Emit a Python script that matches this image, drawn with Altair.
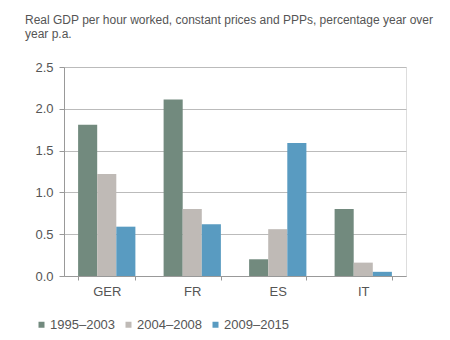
import altair as alt
import pandas as pd

countries = ["GER", "FR", "ES", "IT"]
periods = ["1995–2003", "2004–2008", "2009–2015"]
v_1995_2003 = [1.81, 2.11, 0.20, 0.80]
v_2004_2008 = [1.22, 0.80, 0.56, 0.16]
v_2009_2015 = [0.59, 0.62, 1.59, 0.05]
colors = ["#728A7E", "#BFBAB6", "#599BC1"]
y_ticks = [0.0, 0.5, 1.0, 1.5, 2.0, 2.5]
title_lines = ["Real GDP per hour worked, constant prices and PPPs, percentage year over", "year p.a."]

rows = []
for p, vals in zip(periods, [v_1995_2003, v_2004_2008, v_2009_2015]):
    for c, v in zip(countries, vals):
        rows.append({"country": c, "period": p, "value": v})
df = pd.DataFrame(rows)

FONT = "Liberation Sans"
TXT = "#555555"

chart = alt.Chart(df).mark_bar().encode(
    x=alt.X("country:N", sort=countries,
            scale=alt.Scale(paddingInner=0.33, paddingOuter=0.165),
            axis=alt.Axis(title=None, labelAngle=0, tickBand="extent", tickSize=4,
                          labelPadding=5, domainColor="#999999", tickColor="#999999",
                          labelFont=FONT, labelFontSize=13, labelColor=TXT, grid=False)),
    xOffset=alt.XOffset("period:N", sort=periods,
                        scale=alt.Scale(paddingInner=0, paddingOuter=0)),
    y=alt.Y("value:Q", scale=alt.Scale(domain=[0, 2.5], nice=False),
            axis=alt.Axis(title=None, values=y_ticks, format=".1f", tickSize=5,
                          labelPadding=6, domainColor="#999999", tickColor="#999999",
                          gridColor="#BBBBBB", labelFont=FONT, labelFontSize=13,
                          labelColor=TXT)),
    color=alt.Color("period:N", sort=periods,
                    scale=alt.Scale(domain=periods, range=colors),
                    legend=alt.Legend(title=None, orient="none", direction="horizontal",
                                      legendX=-29, legendY=251, symbolType="square",
                                      symbolSize=36, symbolStrokeWidth=0, labelOffset=2,
                                      columnPadding=6, padding=0, labelFont=FONT,
                                      labelFontSize=13, labelColor=TXT)),
).properties(
    width=342, height=209,
    title=alt.TitleParams(text=title_lines, anchor="start", frame="group", dx=-39,
                          offset=20, font=FONT, fontSize=12, fontWeight="normal",
                          color=TXT, lineHeight=14.5),
    autosize=alt.AutoSizeParams(type="none"),
    padding={"left": 64, "top": 67, "right": 44, "bottom": 64},
).configure_view(stroke=None).configure(background="white")

chart.save("out.html", embed_options={"renderer": "svg", "actions": False})
